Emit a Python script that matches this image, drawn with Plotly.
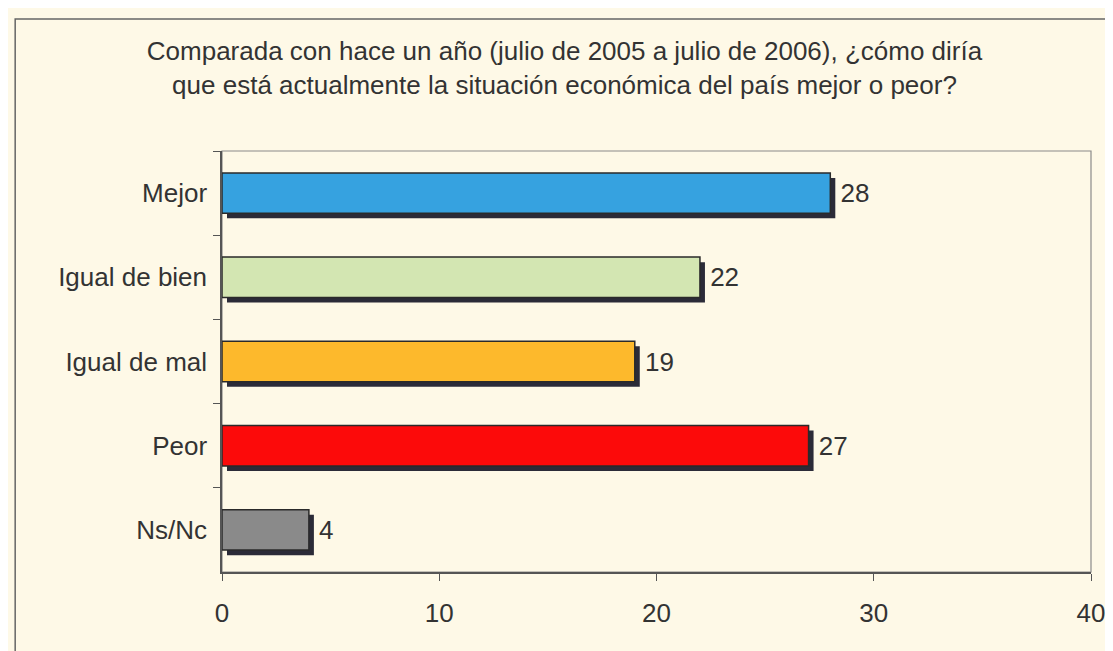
import plotly.graph_objects as go

# Data
categories = ['Mejor', 'Igual de bien', 'Igual de mal', 'Peor', 'Ns/Nc']
values = [28, 22, 19, 27, 4]
colors = ['#36A2E0', '#D3E6B2', '#FDB92C', '#FC0A0A', '#8A8A8A']
x_ticks = [0, 10, 20, 30, 40]

font_family = 'Liberation Sans, Arial, sans-serif'
text_color = '#333333'
bg = '#FEF9E7'

fig = go.Figure()

# shadow behind each bar
fig.add_trace(go.Bar(
    y=categories, x=values, base=0.23, orientation='h',
    width=0.48, offset=-0.18,
    marker=dict(color='#2B2B38', line=dict(width=0)),
    hoverinfo='skip', showlegend=False
))

# main bars
fig.add_trace(go.Bar(
    y=categories, x=values, orientation='h',
    width=0.48, offset=-0.24,
    marker=dict(color=colors, line=dict(color='#2A2A2A', width=1.5)),
    showlegend=False
))

# transparent copy that only carries the value labels past the shadow
fig.add_trace(go.Bar(
    y=categories, x=values, base=0.33, orientation='h',
    width=0.48, offset=-0.24,
    marker=dict(color='rgba(0,0,0,0)', line=dict(width=0)),
    text=[str(v) for v in values], textposition='outside',
    textfont=dict(size=26, color=text_color, family=font_family),
    cliponaxis=False, hoverinfo='skip', showlegend=False
))

fig.update_layout(
    width=1113, height=651,
    barmode='overlay',
    paper_bgcolor=bg, plot_bgcolor=bg,
    margin=dict(l=214, r=30, t=143, b=87),
    font=dict(family=font_family, size=26, color=text_color),
    title=dict(
        text='Comparada con hace un año (julio de 2005 a julio de 2006), ¿cómo diría<br>'
             'que está actualmente la situación económica del país mejor o peor?',
        x=0.5, xref='container', xanchor='center',
        y=1 - 52 / 651, yref='container', yanchor='top',
        font=dict(size=26, color=text_color, family=font_family)
    ),
    xaxis=dict(
        range=[0, 40], tickvals=x_ticks, showgrid=False, zeroline=False,
        showline=True, linecolor='#555555', linewidth=1.5,
        ticks='outside', ticklen=7, tickcolor='#555555',
        ticklabelstandoff=10,
        tickfont=dict(size=26, color=text_color)
    ),
    yaxis=dict(
        autorange='reversed', showgrid=False, zeroline=False,
        showline=True, linecolor='#555555', linewidth=1.5,
        ticks='outside', ticklen=7, tickcolor='#555555',
        tickson='boundaries', ticklabelstandoff=8,
        tickfont=dict(size=26, color=text_color)
    ),
    shapes=[
        # plot frame (lighter top and right edges)
        dict(type='rect', xref='paper', yref='paper', x0=0, x1=1, y0=0, y1=1,
             line=dict(color='#8A8A8A', width=1.2), fillcolor='rgba(0,0,0,0)',
             layer='below'),
        # outer border of the chart
        dict(type='rect', xref='paper', yref='paper',
             x0=-0.238, x1=1.06, y0=-0.25, y1=1.3135,
             line=dict(color='#666666', width=1.5), fillcolor='rgba(0,0,0,0)',
             layer='below'),
    ]
)

fig.write_html("out.html")
